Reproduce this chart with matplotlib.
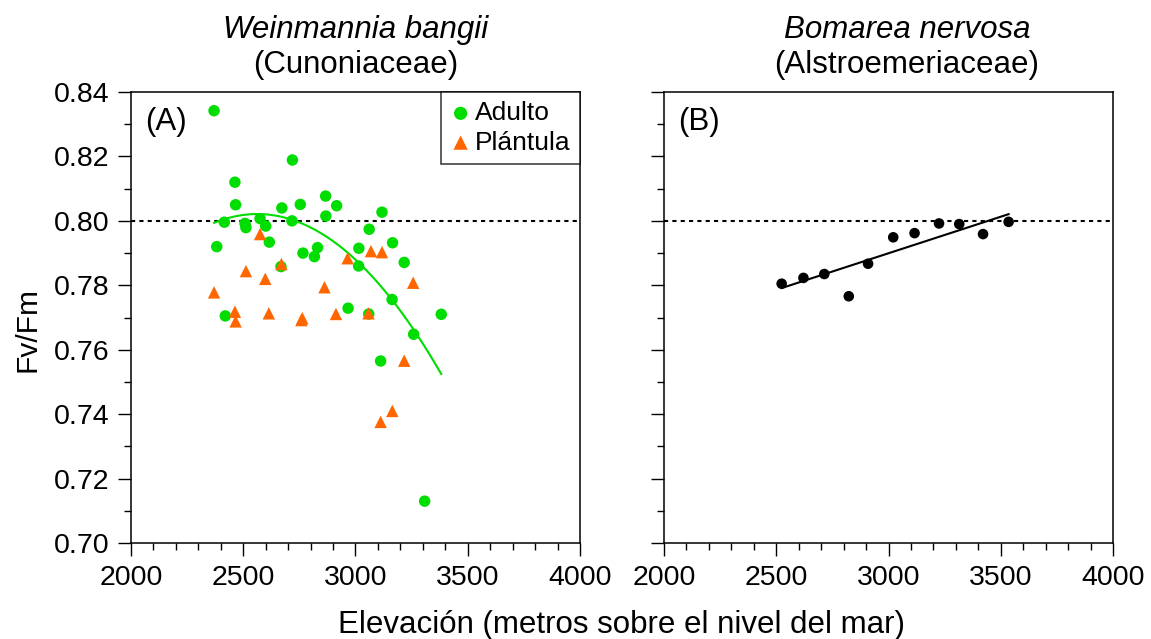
import matplotlib.pyplot as plt
import numpy as np
from matplotlib.ticker import MultipleLocator

plt.rcParams['font.family'] = ['Liberation Sans', 'DejaVu Sans']

# Weinmannia bangii - adult plants (green circles)
adulto_elev = [2370, 2463, 2466, 2416, 2382, 2508, 2512, 2575, 2600, 2616,
               2672, 2719, 2717, 2754, 2766, 2817, 2831, 2867, 2868, 2916,
               2668, 2420, 2967, 3014, 3015, 3061, 3118, 3165, 3217, 3059,
               3163, 3382, 3259, 3112, 3308]
adulto_fvfm = [0.8342, 0.8120, 0.8050, 0.7996, 0.7920, 0.7992, 0.7979, 0.8007, 0.7984, 0.7934,
               0.8040, 0.8189, 0.8000, 0.8051, 0.7900, 0.7889, 0.7917, 0.8077, 0.8015, 0.8047,
               0.7858, 0.7705, 0.7729, 0.7860, 0.7915, 0.7974, 0.8027, 0.7932, 0.7871, 0.7711,
               0.7756, 0.7710, 0.7648, 0.7565, 0.7130]

# Weinmannia bangii - seedlings (orange triangles)
plantula_elev = [2575, 2670, 2512, 2598, 2370, 2862, 2965, 2463, 2614, 2763,
                 2913, 3069, 3118, 3257, 2466, 2759, 3058, 3217, 3164, 3112]
plantula_fvfm = [0.7959, 0.7866, 0.7844, 0.7820, 0.7778, 0.7794, 0.7884, 0.7718, 0.7713, 0.7698,
                 0.7711, 0.7906, 0.7903, 0.7808, 0.7688, 0.7692, 0.7713, 0.7566, 0.7410, 0.7376]

# Bomarea nervosa (black circles)
bomarea_elev = [2524, 2621, 2714, 2823, 2909, 3021, 3116, 3225, 3315, 3421, 3535]
bomarea_fvfm = [0.7805, 0.7823, 0.7835, 0.7766, 0.7867, 0.7949, 0.7962, 0.7992, 0.7990, 0.7959, 0.7997]

verde = '#00dd00'
naranja = '#ff6600'

fig = plt.figure(figsize=(11.51, 6.39), dpi=100)
ax1 = fig.add_axes([0.1138, 0.1502, 0.3901, 0.7058])
ax2 = fig.add_axes([0.5769, 0.1502, 0.3901, 0.7058])

for ax in (ax1, ax2):
    ax.set_xlim(2000, 4000)
    ax.set_ylim(0.70, 0.84)
    ax.xaxis.set_major_locator(MultipleLocator(500))
    ax.xaxis.set_minor_locator(MultipleLocator(100))
    ax.yaxis.set_major_locator(MultipleLocator(0.02))
    ax.yaxis.set_minor_locator(MultipleLocator(0.01))
    ax.tick_params(which='major', direction='out', length=9.5, width=1, labelsize=20.5, pad=6)
    ax.tick_params(which='minor', direction='out', length=5, width=1)
    for s in ax.spines.values():
        s.set_linewidth(1.1)
    ax.axhline(0.80, color='black', lw=1.5, ls=(0, (2, 2)), zorder=1)

ax1.yaxis.set_major_formatter(plt.FormatStrFormatter('%.2f'))
ax2.tick_params(axis='y', labelleft=False)

# panel A
ax1.scatter(adulto_elev, adulto_fvfm, s=68, color=verde, edgecolors='none', zorder=3, label='Adulto')
ax1.scatter(plantula_elev, plantula_fvfm, s=80, marker='^', color=naranja, edgecolors='none',
            zorder=4, label='Plántula')
coef = np.polyfit(adulto_elev, adulto_fvfm, 2)
xx = np.linspace(min(adulto_elev), max(adulto_elev), 200)
ax1.plot(xx, np.polyval(coef, xx), color=verde, lw=1.5, zorder=2)

leg = ax1.legend(loc='upper right', borderaxespad=0, fontsize=19, frameon=True, fancybox=False,
                 handletextpad=0.15, handlelength=0.8, borderpad=0.35, labelspacing=0.2,
                 markerscale=1.15)
leg.get_frame().set_edgecolor('black')
leg.get_frame().set_linewidth(1.1)

# panel B
ax2.scatter(bomarea_elev, bomarea_fvfm, s=58, color='black', edgecolors='none', zorder=3)
coef_b = np.polyfit(bomarea_elev, bomarea_fvfm, 1)
xb = np.array([min(bomarea_elev), max(bomarea_elev)])
ax2.plot(xb, np.polyval(coef_b, xb), color='black', lw=1.5, zorder=2)

ax1.text(0.031, 0.933, '(A)', transform=ax1.transAxes, fontsize=22.5, va='center', ha='left')
ax2.text(0.031, 0.933, '(B)', transform=ax2.transAxes, fontsize=22.5, va='center', ha='left')

ax1.text(0.5, 1.1375, 'Weinmannia bangii', transform=ax1.transAxes, fontsize=22.5,
         style='italic', ha='center', va='center')
ax1.text(0.5, 1.06, '(Cunoniaceae)', transform=ax1.transAxes, fontsize=22.5, ha='center', va='center')
ax2.text(0.541, 1.1375, 'Bomarea nervosa', transform=ax2.transAxes, fontsize=22.5,
         style='italic', ha='center', va='center')
ax2.text(0.541, 1.06, '(Alstroemeriaceae)', transform=ax2.transAxes, fontsize=22.5,
         ha='center', va='center')

fig.text(0.54, 0.022, 'Elevación (metros sobre el nivel del mar)', fontsize=22.5, ha='center', va='center')
fig.text(0.0235, 0.4836, 'Fv/Fm', fontsize=21.5, rotation=90, ha='center', va='center')

fig.savefig('out.png', dpi=100)
